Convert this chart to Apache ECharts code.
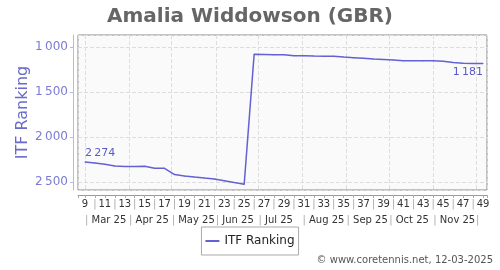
<!DOCTYPE html>
<html><head><meta charset="utf-8">
<script src="https://cdn.jsdelivr.net/npm/echarts@6/dist/echarts.min.js"></script>
<style>html,body{margin:0;padding:0;background:#fff}#c{width:500px;height:270px}</style>
</head><body><div id="c"></div>
<script>
const titleText = 'Amalia Widdowson (GBR)';
const seriesName = 'ITF Ranking';
const weeks = [9,10,11,12,13,14,15,16,17,18,19,20,21,22,23,24,25,26,27,28,29,30,31,32,33,34,35,36,37,38,39,40,41,42,43,44,45,46,47,48,49];
const ranks = [2274,2285,2300,2318,2326,2325,2322,2343,2345,2415,2430,2442,2453,2463,2482,2502,2521,
  1078,1080,1082,1083,1095,1095,1097,1098,1100,1108,1115,1122,1130,1135,1140,1148,1150,1150,1150,1155,1170,1178,1181,1181];
const yTicks = [1000,1500,2000,2500];
const credit = '\u00a9 www.coretennis.net, 12-03-2025';
const monthFmt = ['Jan','Feb','Mar','Apr','May','Jun','Jul','Aug','Sep','Oct','Nov','Dec'];

const firstWeekDate = new Date(2025,2,1).getTime();
const DAY = 86400000;
const weekToTime = w => firstWeekDate + (w - weeks[0]) * 7 * DAY;
const xMin = 8.3, xMax = 49.4;

function fmtNum(v){ return String(v).replace(/\B(?=(\d{3})+(?!\d))/g,'\u202f'); }

const chart = echarts.init(document.getElementById('c'), null, {renderer:'canvas'});
const lineColor = '#6262d2';
const labelStyle = {fontFamily:'DejaVu Sans', fontSize:11, color:'#5a5ac8'};
const data = weeks.map((w,i)=>{
  const item = {value:[w, ranks[i]]};
  if (i === 0) item.label = Object.assign({show:true, position:'top', align:'left', distance:3}, labelStyle);
  if (i === weeks.length-1) item.label = Object.assign({show:true, position:'bottom', align:'right', distance:3}, labelStyle);
  return item;
});
chart.setOption({
  animation:false,
  title:[
    {text:titleText, left:'center', top:2, textStyle:{fontFamily:'DejaVu Sans', fontWeight:'bold', fontSize:20, color:'#666'}},
    {text:credit, right:2, bottom:0, textStyle:{fontFamily:'DejaVu Sans', fontWeight:'normal', fontSize:10, color:'#555'}}
  ],
  legend:{
    data:[{name:seriesName, icon:'rect'}], left:'center', top:227, borderColor:'#aaa', borderWidth:1, borderRadius:0,
    padding:[8,4,8,4], itemWidth:14, itemHeight:2, itemGap:5,
    textStyle:{fontFamily:'DejaVu Sans', fontSize:12, color:'#222'}
  },
  grid:{left:78, right:13, top:35, bottom:80, show:true, backgroundColor:'#fafafa', borderColor:'#888', borderWidth:1},
  xAxis:[
    {type:'value', min:xMin, max:xMax, minInterval:1, maxInterval:1, position:'bottom', offset:5,
     axisLine:{show:true, lineStyle:{color:'#999'}},
     axisTick:{show:true, length:3, lineStyle:{color:'#aaa'}},
     splitLine:{show:false},
     axisLabel:{margin:4, fontFamily:'DejaVu Sans', fontSize:10, color:'#333',
       showMinLabel:true, showMaxLabel:true,
       formatter:v=>{ if(!Number.isInteger(v)||v<weeks[0]||v>weeks[weeks.length-1]) return ''; return (v%2===1)? String(v) : '{s||}'; },
       rich:{s:{color:'#aaa', fontSize:10}}}
    },
    {type:'time', min:weekToTime(xMin), max:weekToTime(xMax), position:'bottom', offset:21, splitNumber:10, maxInterval:31*DAY,
     axisLine:{show:false}, axisTick:{show:false},
     splitLine:{show:true, lineStyle:{color:'#ddd', type:'dashed'}},
     axisLabel:{margin:4, align:'left', fontFamily:'DejaVu Sans', fontSize:10, color:'#333', hideOverlap:false,
       formatter:v=>{ const d=new Date(v); if(d.getDate()!==1) return ''; if(d.getMonth()===11) return '{s||}'; return '{s||} '+monthFmt[d.getMonth()]+' '+String(d.getFullYear()).slice(2); },
       rich:{s:{color:'#aaa', fontSize:10}}}
    }
  ],
  yAxis:{type:'value', inverse:true, min:863, max:2586, splitNumber:4, minInterval:500, maxInterval:500, offset:5,
    name:seriesName, nameLocation:'middle', nameGap:42, nameRotate:90, nameMoveOverlap:false,
    nameTextStyle:{fontFamily:'DejaVu Sans', fontSize:16, color:'#6a6acc'},
    axisLine:{show:true, lineStyle:{color:'#b8b8e6'}},
    axisTick:{show:true, length:3, lineStyle:{color:'#b8b8e6'}},
    splitLine:{show:true, lineStyle:{color:'#ddd', type:'dashed'}},
    axisLabel:{margin:5, fontFamily:'DejaVu Sans', fontSize:12, color:'#7b7bd4', showMinLabel:false, showMaxLabel:false,
      formatter:v=> yTicks.includes(v)? fmtNum(v) : ''}
  },
  series:[{name:seriesName, type:'line', xAxisIndex:0, yAxisIndex:0, data:data, symbol:'circle', symbolSize:1, showSymbol:true, clip:false,
    lineStyle:{color:lineColor, width:1.5}, itemStyle:{color:lineColor},
    label:Object.assign({show:false, formatter:p=>fmtNum(p.value[1])}, labelStyle)
  }]
});
</script></body></html>
